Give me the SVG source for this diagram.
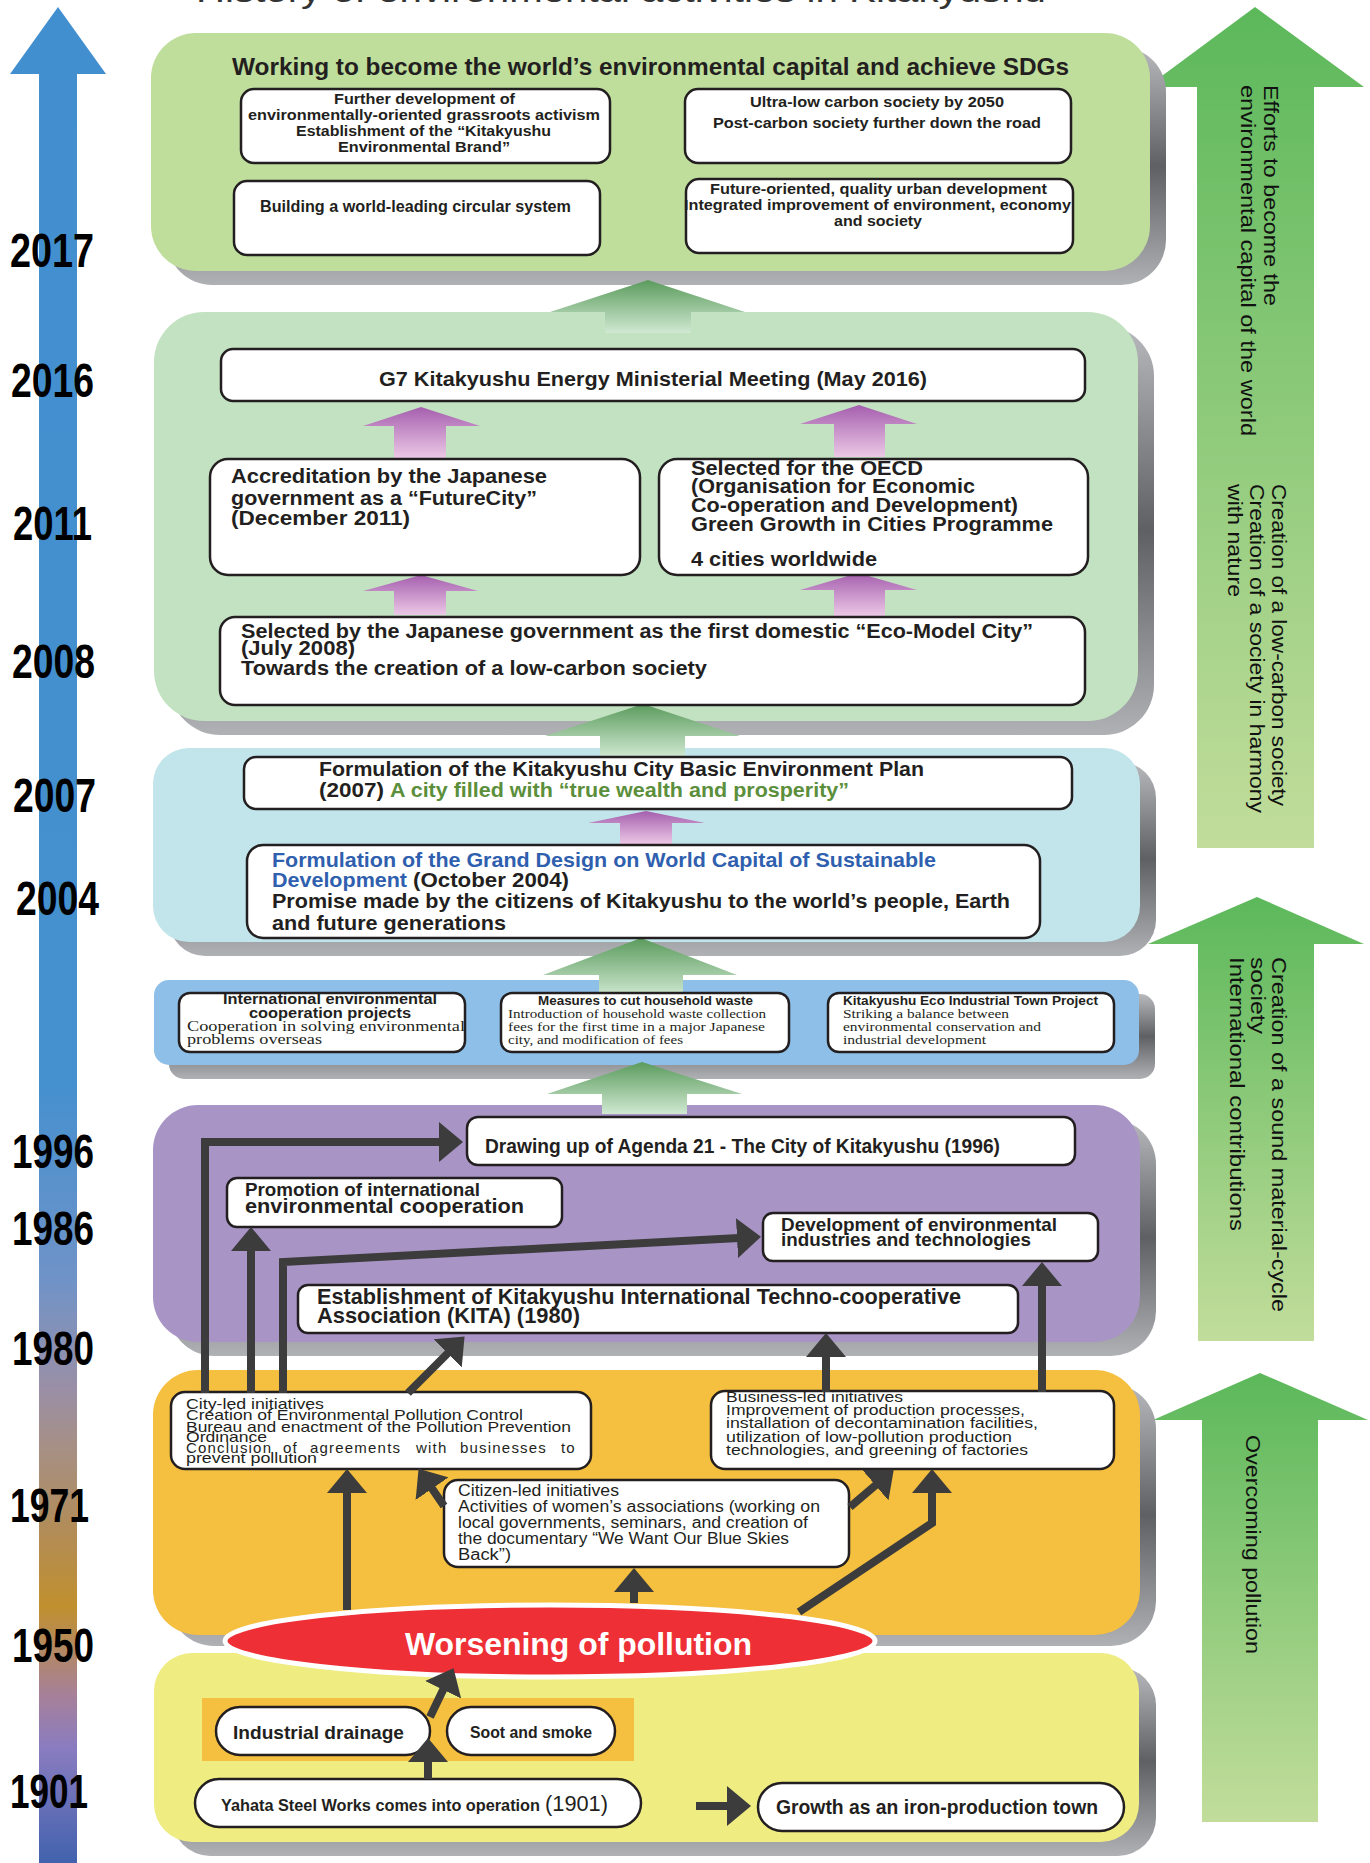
<svg xmlns="http://www.w3.org/2000/svg" width="1370" height="1863" viewBox="0 0 1370 1863">
<defs>
<style>
text{font-family:"Liberation Sans",Arial,sans-serif;fill:#231f20}
.b{font-weight:bold}
.s{font-family:"Liberation Serif","Times New Roman",serif}
.box{fill:#fff;stroke:#231f20;stroke-width:2.5}
.con{fill:none;stroke:#3c3c3c;stroke-width:8;marker-end:url(#ah)}
.yr{font-weight:bold;font-size:48px;fill:#000}
.rt{font-size:21px;fill:#111}
</style>
<marker id="ah" markerUnits="userSpaceOnUse" markerWidth="26" markerHeight="40" viewBox="0 0 26 40" refX="2" refY="20" orient="auto"><path d="M0,0 L24,20 L0,40 Z" fill="#3c3c3c"/></marker>
<linearGradient id="sh" x1="0" y1="0" x2="0" y2="1"><stop offset="0" stop-color="#b8b9bd"/><stop offset="0.5" stop-color="#5f6064"/><stop offset="1" stop-color="#b0b1b5"/></linearGradient>
<linearGradient id="gg" x1="0" y1="0" x2="0" y2="1"><stop offset="0" stop-color="#5b9b5d"/><stop offset="1" stop-color="#d0e9d2"/></linearGradient>
<linearGradient id="gp" x1="0" y1="0" x2="0" y2="1"><stop offset="0" stop-color="#a55fae"/><stop offset="1" stop-color="#ecc8e6"/></linearGradient>
<linearGradient id="gr" x1="0" y1="0" x2="0" y2="1"><stop offset="0" stop-color="#5cb85b"/><stop offset="1" stop-color="#c2dd9b"/></linearGradient>
<linearGradient id="gt" gradientUnits="userSpaceOnUse" x1="0" y1="7" x2="0" y2="1863">
<stop offset="0" stop-color="#428fcf"/><stop offset="0.58" stop-color="#4590cf"/><stop offset="0.685" stop-color="#6f93c8"/><stop offset="0.745" stop-color="#9a8fa6"/><stop offset="0.775" stop-color="#a69086"/><stop offset="0.82" stop-color="#b28c58"/><stop offset="0.862" stop-color="#c0902e"/><stop offset="0.91" stop-color="#a6809a"/><stop offset="0.938" stop-color="#8a7cc0"/><stop offset="1" stop-color="#4262ae"/>
</linearGradient>
</defs>

<text x="196" y="1.5" font-size="34" textLength="850" lengthAdjust="spacingAndGlyphs" style="fill:#333">History of environmental activities in Kitakyushu</text>

<g id="timeline">
<polygon points="58,7 106,74 77,74 77,1863 39,1863 39,74 10,74" fill="url(#gt)"/>
<text class="yr" x="10" y="267" textLength="84" lengthAdjust="spacingAndGlyphs">2017</text>
<text class="yr" x="11" y="397" textLength="83" lengthAdjust="spacingAndGlyphs">2016</text>
<text class="yr" x="13" y="540" textLength="79" lengthAdjust="spacingAndGlyphs">2011</text>
<text class="yr" x="12" y="678" textLength="83" lengthAdjust="spacingAndGlyphs">2008</text>
<text class="yr" x="13" y="812" textLength="83" lengthAdjust="spacingAndGlyphs">2007</text>
<text class="yr" x="16" y="915" textLength="83" lengthAdjust="spacingAndGlyphs">2004</text>
<text class="yr" x="12" y="1168" textLength="82" lengthAdjust="spacingAndGlyphs">1996</text>
<text class="yr" x="12" y="1245" textLength="82" lengthAdjust="spacingAndGlyphs">1986</text>
<text class="yr" x="12" y="1365" textLength="82" lengthAdjust="spacingAndGlyphs">1980</text>
<text class="yr" x="10" y="1522" textLength="79" lengthAdjust="spacingAndGlyphs">1971</text>
<text class="yr" x="12" y="1662" textLength="82" lengthAdjust="spacingAndGlyphs">1950</text>
<text class="yr" x="10" y="1808" textLength="78" lengthAdjust="spacingAndGlyphs">1901</text>
</g>

<g id="right-arrows">
<g id="r1">
<polygon points="1255,7 1364,87 1314,87 1314,848 1197,848 1197,87 1147,87" fill="url(#gr)"/>
<text class="rt" font-size="22" transform="translate(1264,85) rotate(90)" textLength="221" lengthAdjust="spacingAndGlyphs">Efforts to become the</text>
<text class="rt" font-size="22" transform="translate(1241,85) rotate(90)" textLength="351" lengthAdjust="spacingAndGlyphs">environmental capital of the world</text>
<text class="rt" transform="translate(1272,484) rotate(90)" textLength="322" lengthAdjust="spacingAndGlyphs">Creation of a low-carbon society</text>
<text class="rt" transform="translate(1250,484) rotate(90)" textLength="329" lengthAdjust="spacingAndGlyphs">Creation of a society in harmony</text>
<text class="rt" transform="translate(1228,484) rotate(90)" textLength="113" lengthAdjust="spacingAndGlyphs">with nature</text>
</g>
<g id="r2">
<polygon points="1257,897 1364,944 1314,944 1314,1341 1198,1341 1198,944 1148,944" fill="url(#gr)"/>
<text class="rt" transform="translate(1272,957) rotate(90)" textLength="355" lengthAdjust="spacingAndGlyphs">Creation of a sound material-cycle</text>
<text class="rt" transform="translate(1251,957) rotate(90)" textLength="77" lengthAdjust="spacingAndGlyphs">society</text>
<text class="rt" transform="translate(1230,957) rotate(90)" textLength="274" lengthAdjust="spacingAndGlyphs">International contributions</text>
</g>
<g id="r3">
<polygon points="1260,1373 1368,1420 1318,1420 1318,1822 1202,1822 1202,1420 1153,1420" fill="url(#gr)"/>
<text class="rt" transform="translate(1246,1435) rotate(90)" textLength="219" lengthAdjust="spacingAndGlyphs">Overcoming pollution</text>
</g>
</g>

<g id="panels">
<rect x="167" y="47" width="999" height="238" rx="45" fill="url(#sh)"/>
<rect x="151" y="33" width="999" height="238" rx="45" fill="#bfdd9b"/>
<rect x="170" y="326" width="984" height="409" rx="50" fill="url(#sh)"/>
<rect x="154" y="312" width="984" height="409" rx="50" fill="#c3e2c1"/>
<rect x="169" y="762" width="987" height="194" rx="36" fill="url(#sh)"/>
<rect x="153" y="748" width="987" height="194" rx="36" fill="#c1e5ea"/>
<rect x="169" y="994" width="986" height="85" rx="15" fill="url(#sh)"/>
<rect x="154" y="980" width="985" height="85" rx="15" fill="#8ebfe8"/>
<rect x="169" y="1119" width="987" height="237" rx="45" fill="url(#sh)"/>
<rect x="153" y="1105" width="987" height="237" rx="45" fill="#a994c6"/>
<rect x="169" y="1384" width="987" height="262" rx="45" fill="url(#sh)"/>
<rect x="153" y="1370" width="987" height="265" rx="45" fill="#f5bf3f"/>
<rect x="172" y="1667" width="984" height="189" rx="38" fill="url(#sh)"/>
<rect x="154" y="1653" width="985" height="189" rx="38" fill="#efec82"/>
</g>

<g id="stage-arrows">
<polygon points="648,280 745,312 691,312 691,333 605,333 605,312 550,312" fill="url(#gg)"/>
<polygon points="643,704 740,736 685,736 685,757 600,757 600,736 545,736" fill="url(#gg)"/>
<polygon points="641,938 737,975 683,975 683,997 599,997 599,975 543,975" fill="url(#gg)"/>
<polygon points="642,1062 742,1094 687,1094 687,1114 602,1114 602,1094 547,1094" fill="url(#gg)"/>
<polygon points="421,407 480,426 446,426 446,458 394,458 394,426 363,426" fill="url(#gp)"/>
<polygon points="859,405 917,424 885,424 885,457 834,457 834,424 800,424" fill="url(#gp)"/>
<polygon points="421,575 478,591 446,591 446,615 394,615 394,591 363,591" fill="url(#gp)"/>
<polygon points="858,573 917,590 885,590 885,616 834,616 834,590 800,590" fill="url(#gp)"/>
<polygon points="646,811 705,823 672,823 672,844 620,844 620,823 588,823" fill="url(#gp)"/>
</g>

<g id="stage1">
<text class="b" x="232" y="75" font-size="24" textLength="837" lengthAdjust="spacingAndGlyphs">Working to become the world’s environmental capital and achieve SDGs</text>
<g id="n1a">
<rect class="box" x="241" y="89" width="369" height="74" rx="13"/>
<text class="b" x="334" y="104" font-size="15" textLength="181" lengthAdjust="spacingAndGlyphs">Further development of</text>
<text class="b" x="248" y="120" font-size="15" textLength="352" lengthAdjust="spacingAndGlyphs">environmentally-oriented grassroots activism</text>
<text class="b" x="296" y="136" font-size="15" textLength="255" lengthAdjust="spacingAndGlyphs">Establishment of the “Kitakyushu</text>
<text class="b" x="338" y="152" font-size="15" textLength="172" lengthAdjust="spacingAndGlyphs">Environmental Brand”</text>
</g>
<g id="n1b">
<rect class="box" x="234" y="181" width="366" height="74" rx="13"/>
<text class="b" x="260" y="212" font-size="16" textLength="311" lengthAdjust="spacingAndGlyphs">Building a world-leading circular system</text>
</g>
<g id="n1c">
<rect class="box" x="685" y="89" width="386" height="74" rx="13"/>
<text class="b" x="750" y="107" font-size="15" textLength="254" lengthAdjust="spacingAndGlyphs">Ultra-low carbon society by 2050</text>
<text class="b" x="713" y="128" font-size="15" textLength="328" lengthAdjust="spacingAndGlyphs">Post-carbon society further down the road</text>
</g>
<g id="n1d">
<rect class="box" x="686" y="179" width="387" height="74" rx="13"/>
<text class="b" x="710" y="194" font-size="15" textLength="337" lengthAdjust="spacingAndGlyphs">Future-oriented, quality urban development</text>
<text class="b" x="684" y="210" font-size="15" textLength="387" lengthAdjust="spacingAndGlyphs">Integrated improvement of environment, economy</text>
<text class="b" x="834" y="226" font-size="15" textLength="88" lengthAdjust="spacingAndGlyphs">and society</text>
</g>
</g>

<g id="stage2">
<g id="n2a">
<rect class="box" x="221" y="349" width="864" height="52" rx="12"/>
<text class="b" x="379" y="386" font-size="20" textLength="548" lengthAdjust="spacingAndGlyphs">G7 Kitakyushu Energy Ministerial Meeting (May 2016)</text>
</g>
<g id="n2b">
<rect class="box" x="210" y="459" width="430" height="116" rx="18"/>
<text class="b" x="231" y="483" font-size="20" textLength="316" lengthAdjust="spacingAndGlyphs">Accreditation by the Japanese</text>
<text class="b" x="231" y="505" font-size="20" textLength="306" lengthAdjust="spacingAndGlyphs">government as a “FutureCity”</text>
<text class="b" x="231" y="525" font-size="20" textLength="179" lengthAdjust="spacingAndGlyphs">(December 2011)</text>
</g>
<g id="n2c">
<rect class="box" x="659" y="459" width="429" height="116" rx="18"/>
<text class="b" x="691" y="475" font-size="20" textLength="232" lengthAdjust="spacingAndGlyphs">Selected for the OECD</text>
<text class="b" x="691" y="493" font-size="20" textLength="284" lengthAdjust="spacingAndGlyphs">(Organisation for Economic</text>
<text class="b" x="691" y="512" font-size="20" textLength="327" lengthAdjust="spacingAndGlyphs">Co-operation and Development)</text>
<text class="b" x="691" y="531" font-size="20" textLength="362" lengthAdjust="spacingAndGlyphs">Green Growth in Cities Programme</text>
<text class="b" x="691" y="566" font-size="20" textLength="186" lengthAdjust="spacingAndGlyphs">4 cities worldwide</text>
</g>
<g id="n2d">
<rect class="box" x="220" y="617" width="865" height="88" rx="15"/>
<text class="b" x="241" y="638" font-size="20" textLength="792" lengthAdjust="spacingAndGlyphs">Selected by the Japanese government as the first domestic “Eco-Model City”</text>
<text class="b" x="241" y="655" font-size="20" textLength="114" lengthAdjust="spacingAndGlyphs">(July 2008)</text>
<text class="b" x="241" y="675" font-size="20" textLength="466" lengthAdjust="spacingAndGlyphs">Towards the creation of a low-carbon society</text>
</g>
</g>

<g id="stage3">
<g id="n3a">
<rect class="box" x="244" y="757" width="828" height="52" rx="12"/>
<text class="b" x="319" y="776" font-size="20" textLength="605" lengthAdjust="spacingAndGlyphs">Formulation of the Kitakyushu City Basic Environment Plan</text>
<text class="b" x="319" y="797" font-size="20" textLength="65" lengthAdjust="spacingAndGlyphs">(2007)</text>
<text class="b" x="390" y="797" font-size="20" textLength="459" lengthAdjust="spacingAndGlyphs" style="fill:#5b8f3c">A city filled with “true wealth and prosperity”</text>
</g>
<g id="n3b">
<rect class="box" x="247" y="845" width="793" height="93" rx="16"/>
<text class="b" x="272" y="867" font-size="21" textLength="664" lengthAdjust="spacingAndGlyphs" style="fill:#2f5fae">Formulation of the Grand Design on World Capital of Sustainable</text>
<text class="b" x="272" y="887" font-size="21" textLength="135" lengthAdjust="spacingAndGlyphs" style="fill:#2f5fae">Development</text>
<text class="b" x="413" y="887" font-size="21" textLength="156" lengthAdjust="spacingAndGlyphs">(October 2004)</text>
<text class="b" x="272" y="908" font-size="21" textLength="738" lengthAdjust="spacingAndGlyphs">Promise made by the citizens of Kitakyushu to the world’s people, Earth</text>
<text class="b" x="272" y="930" font-size="21" textLength="234" lengthAdjust="spacingAndGlyphs">and future generations</text>
</g>
</g>

<g id="stage4">
<g id="n4a">
<rect class="box" x="179" y="993" width="286" height="59" rx="11"/>
<text class="b" x="223" y="1004" font-size="14" textLength="214" lengthAdjust="spacingAndGlyphs">International environmental</text>
<text class="b" x="249" y="1018" font-size="14" textLength="162" lengthAdjust="spacingAndGlyphs">cooperation projects</text>
<text class="s" x="187" y="1031" font-size="14" textLength="278" lengthAdjust="spacingAndGlyphs">Cooperation in solving environmental</text>
<text class="s" x="187" y="1044" font-size="14" textLength="135" lengthAdjust="spacingAndGlyphs">problems overseas</text>
</g>
<g id="n4b">
<rect class="box" x="501" y="993" width="288" height="59" rx="11"/>
<text class="b" x="538" y="1005" font-size="13" textLength="215" lengthAdjust="spacingAndGlyphs">Measures to cut household waste</text>
<text class="s" x="508" y="1018" font-size="13" textLength="258" lengthAdjust="spacingAndGlyphs">Introduction of household waste collection</text>
<text class="s" x="508" y="1031" font-size="13" textLength="257" lengthAdjust="spacingAndGlyphs">fees for the first time in a major Japanese</text>
<text class="s" x="508" y="1044" font-size="13" textLength="175" lengthAdjust="spacingAndGlyphs">city, and modification of fees</text>
</g>
<g id="n4c">
<rect class="box" x="828" y="993" width="286" height="59" rx="11"/>
<text class="b" x="843" y="1005" font-size="13" textLength="255" lengthAdjust="spacingAndGlyphs">Kitakyushu Eco Industrial Town Project</text>
<text class="s" x="843" y="1018" font-size="13" textLength="166" lengthAdjust="spacingAndGlyphs">Striking a balance between</text>
<text class="s" x="843" y="1031" font-size="13" textLength="198" lengthAdjust="spacingAndGlyphs">environmental conservation and</text>
<text class="s" x="843" y="1044" font-size="13" textLength="143" lengthAdjust="spacingAndGlyphs">industrial development</text>
</g>
</g>

<g id="stage5">
<g id="n5a">
<rect class="box" x="467" y="1117" width="608" height="48" rx="11"/>
<text class="b" x="485" y="1153" font-size="20" textLength="515" lengthAdjust="spacingAndGlyphs">Drawing up of Agenda 21 - The City of Kitakyushu (1996)</text>
</g>
<g id="n5b">
<rect class="box" x="227" y="1178" width="335" height="49" rx="10"/>
<text class="b" x="245" y="1196" font-size="19" textLength="235" lengthAdjust="spacingAndGlyphs">Promotion of international</text>
<text class="b" x="245" y="1213" font-size="21" textLength="279" lengthAdjust="spacingAndGlyphs">environmental cooperation</text>
</g>
<g id="n5c">
<rect class="box" x="763" y="1213" width="335" height="48" rx="10"/>
<text class="b" x="781" y="1231" font-size="19" textLength="276" lengthAdjust="spacingAndGlyphs">Development of environmental</text>
<text class="b" x="781" y="1246" font-size="19" textLength="250" lengthAdjust="spacingAndGlyphs">industries and technologies</text>
</g>
<g id="n5d">
<rect class="box" x="298" y="1285" width="720" height="48" rx="10"/>
<text class="b" x="317" y="1304" font-size="22" textLength="644" lengthAdjust="spacingAndGlyphs">Establishment of Kitakyushu International Techno-cooperative</text>
<text class="b" x="317" y="1323" font-size="22" textLength="263" lengthAdjust="spacingAndGlyphs">Association (KITA) (1980)</text>
</g>
</g>

<g id="stage6">
<g id="n6a">
<rect class="box" x="171" y="1392" width="420" height="77" rx="14"/>
<text x="186" y="1409" font-size="15" textLength="138" lengthAdjust="spacingAndGlyphs">City-led initiatives</text>
<text x="186" y="1420" font-size="15" textLength="337" lengthAdjust="spacingAndGlyphs">Creation of Environmental Pollution Control</text>
<text x="186" y="1432" font-size="15" textLength="385" lengthAdjust="spacingAndGlyphs">Bureau and enactment of the Pollution Prevention</text>
<text x="186" y="1442" font-size="15" textLength="81" lengthAdjust="spacingAndGlyphs">Ordinance</text>
<text y="1453" font-size="15" style="letter-spacing:1.2px"><tspan x="186">Conclusion</tspan> <tspan x="283">of</tspan> <tspan x="310">agreements</tspan> <tspan x="416">with</tspan> <tspan x="460">businesses</tspan> <tspan x="561">to</tspan></text>
<text x="186" y="1463" font-size="15" textLength="131" lengthAdjust="spacingAndGlyphs">prevent pollution</text>
</g>
<g id="n6b">
<rect class="box" x="711" y="1391" width="403" height="78" rx="14"/>
<text x="726" y="1402" font-size="15" textLength="177" lengthAdjust="spacingAndGlyphs">Business-led initiatives</text>
<text x="726" y="1415" font-size="15" textLength="299" lengthAdjust="spacingAndGlyphs">Improvement of production processes,</text>
<text x="726" y="1428" font-size="15" textLength="312" lengthAdjust="spacingAndGlyphs">installation of decontamination facilities,</text>
<text x="726" y="1442" font-size="15" textLength="286" lengthAdjust="spacingAndGlyphs">utilization of low-pollution production</text>
<text x="726" y="1455" font-size="15" textLength="302" lengthAdjust="spacingAndGlyphs">technologies, and greening of factories</text>
</g>
<g id="n6c">
<rect class="box" x="444" y="1480" width="405" height="87" rx="14"/>
<text x="458" y="1496" font-size="16" textLength="161" lengthAdjust="spacingAndGlyphs">Citizen-led initiatives</text>
<text x="458" y="1512" font-size="16" textLength="362" lengthAdjust="spacingAndGlyphs">Activities of women’s associations (working on</text>
<text x="458" y="1528" font-size="16" textLength="350" lengthAdjust="spacingAndGlyphs">local governments, seminars, and creation of</text>
<text x="458" y="1544" font-size="16" textLength="331" lengthAdjust="spacingAndGlyphs">the documentary “We Want Our Blue Skies</text>
<text x="458" y="1560" font-size="16" textLength="53" lengthAdjust="spacingAndGlyphs">Back”)</text>
</g>
</g>

<g id="stage7">
<rect x="202" y="1698" width="432" height="63" fill="#f5bf3f"/>
<g id="n7a">
<rect class="box" x="216" y="1707" width="214" height="48" rx="24"/>
<text class="b" x="233" y="1739" font-size="19" textLength="171" lengthAdjust="spacingAndGlyphs">Industrial drainage</text>
</g>
<g id="n7b">
<rect class="box" x="447" y="1707" width="168" height="48" rx="24"/>
<text class="b" x="470" y="1738" font-size="16" textLength="122" lengthAdjust="spacingAndGlyphs">Soot and smoke</text>
</g>
<g id="n7c">
<rect class="box" x="195" y="1779" width="446" height="48" rx="24"/>
<text class="b" x="221" y="1811" font-size="16" textLength="319" lengthAdjust="spacingAndGlyphs">Yahata Steel Works comes into operation</text>
<text x="545" y="1811" font-size="22" textLength="63" lengthAdjust="spacingAndGlyphs">(1901)</text>
</g>
<g id="n7d">
<rect class="box" x="758" y="1783" width="366" height="48" rx="24"/>
<text class="b" x="776" y="1814" font-size="20" textLength="322" lengthAdjust="spacingAndGlyphs">Growth as an iron-production town</text>
</g>
</g>

<g id="pollution">
<ellipse cx="550" cy="1641" rx="325" ry="36" fill="#ee2f36" stroke="#fff" stroke-width="5"/>
<text class="b" x="405" y="1655" font-size="31" textLength="347" lengthAdjust="spacingAndGlyphs" style="fill:#fff">Worsening of pollution</text>
</g>

<g id="connectors">
<polyline class="con" points="205,1393 205,1142 441,1142"/>
<polyline class="con" points="251,1393 251,1249"/>
<polyline class="con" points="283,1393 283,1262 739,1238"/>
<polyline class="con" points="408,1393 449,1352"/>
<polyline class="con" points="826,1392 826,1355"/>
<polyline class="con" points="1042,1392 1042,1284"/>
<polyline class="con" points="347,1610 347,1491"/>
<polyline class="con" points="444,1506 431,1487"/>
<polyline class="con" points="634,1603 634,1590"/>
<polyline class="con" points="850,1507 877,1484"/>
<polyline class="con" points="799,1612 932,1523 932,1491"/>
<polyline class="con" points="428,1779 428,1760"/>
<polyline class="con" points="430,1717 444,1688"/>
<polyline class="con" points="696,1806 729,1806"/>
</g>
</svg>
